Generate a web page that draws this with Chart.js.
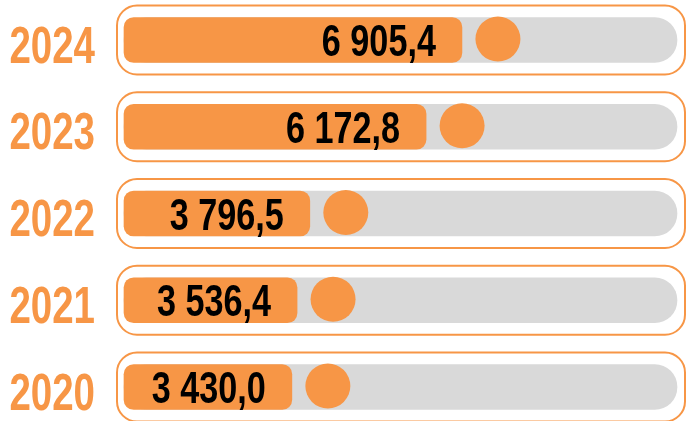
<!DOCTYPE html>
<html lang="en">
<head>
    <meta charset="UTF-8">
    <title>Values by year</title>
    <script src="https://cdn.jsdelivr.net/npm/chart.js"></script>
    <style>
        html, body { margin: 0; padding: 0; background: #ffffff; }
        .chart-box { position: relative; width: 686px; height: 421px; }
    </style>
</head>
<body>
    <div class="chart-box">
        <canvas id="yearChart"></canvas>
    </div>

    <script>
        // chart data
        const years = ['2024', '2023', '2022', '2021', '2020'];
        const values = [6905.4, 6172.8, 3796.5, 3536.4, 3430.0];
        const trackMax = 11300; // full length of the grey track

        const orange = '#F79646';
        const grey = '#D9D9D9';
        const fontFamily = '"Liberation Sans", Arial, sans-serif';

        // "6905.4" -> "6 905,4"
        function formatValue(v) {
            const parts = v.toFixed(1).split('.');
            const intPart = parts[0].replace(/\B(?=(\d{3})+(?!\d))/g, ' ');
            return intPart + ',' + parts[1];
        }

        // squeezed text, to imitate the condensed display font
        function drawNarrowText(ctx, text, x, y, size, color, align, squeeze) {
            ctx.save();
            ctx.translate(x, y);
            ctx.scale(squeeze, 1);
            ctx.font = 'bold ' + size + 'px ' + fontFamily;
            ctx.fillStyle = color;
            ctx.textAlign = align;
            ctx.textBaseline = 'alphabetic';
            ctx.fillText(text, 0, 0);
            ctx.restore();
        }

        const decorPlugin = {
            id: 'decor',
            beforeDatasetsDraw(chart) {
                // rounded outline around every track
                const { ctx, chartArea } = chart;
                const trackMeta = chart.getDatasetMeta(0);
                ctx.save();
                ctx.strokeStyle = orange;
                ctx.lineWidth = 2;
                trackMeta.data.forEach(bar => {
                    const { y } = bar.getProps(['y'], true);
                    const left = chartArea.left - 7;
                    const right = chartArea.right + 8;
                    ctx.beginPath();
                    ctx.roundRect(left, y - 34.5, right - left, 69, 20);
                    ctx.stroke();
                });
                ctx.restore();
            },
            afterDatasetsDraw(chart) {
                const { ctx } = chart;
                const valueMeta = chart.getDatasetMeta(1);
                valueMeta.data.forEach((bar, i) => {
                    const { x, y } = bar.getProps(['x', 'y'], true);

                    // marker dot after the bar end
                    ctx.save();
                    ctx.fillStyle = orange;
                    ctx.beginPath();
                    ctx.arc(x + 36, y - 1, 22.5, 0, Math.PI * 2);
                    ctx.fill();
                    ctx.restore();

                    // value inside the bar
                    drawNarrowText(ctx, formatValue(values[i]), x - 26, y + 16, 45, '#000000', 'right', 0.76);

                    // year on the left
                    drawNarrowText(ctx, years[i], 95, y + 4 + 18.5, 52, orange, 'right', 0.74);
                });
            }
        };

        new Chart(document.getElementById('yearChart'), {
            type: 'bar',
            data: {
                labels: years,
                datasets: [
                    {
                        label: 'track',
                        data: years.map(() => trackMax),
                        backgroundColor: grey,
                        borderRadius: 23,
                        borderSkipped: false,
                        barThickness: 45,
                        grouped: false,
                        clip: false,
                        order: 2
                    },
                    {
                        label: 'value',
                        data: values,
                        backgroundColor: orange,
                        borderRadius: 10,
                        borderSkipped: false,
                        barThickness: 45,
                        grouped: false,
                        clip: false,
                        order: 1
                    }
                ]
            },
            options: {
                indexAxis: 'y',
                responsive: true,
                maintainAspectRatio: false,
                animation: false,
                layout: { padding: { left: 124, right: 9, top: 40, bottom: 34 } },
                plugins: {
                    legend: { display: false },
                    tooltip: { enabled: false }
                },
                scales: {
                    x: { display: false, min: 0, max: trackMax },
                    y: { display: false, offset: false }
                }
            },
            plugins: [decorPlugin]
        });
    </script>
</body>
</html>
